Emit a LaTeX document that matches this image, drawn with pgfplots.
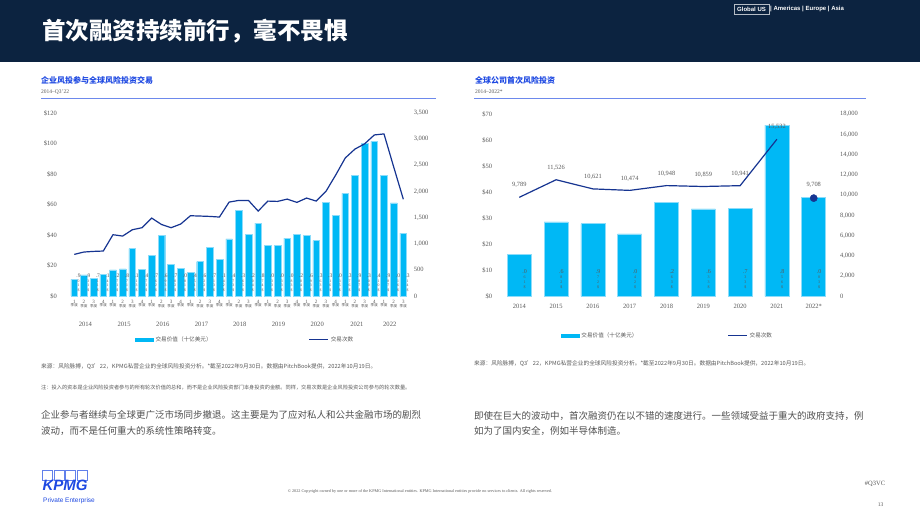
\documentclass[border=0pt]{standalone}
\usepackage{fontspec}
\setmainfont{Liberation Serif}
\newfontfamily\cjk{Noto Sans CJK SC}
\newfontfamily\sans{Liberation Sans}
\usepackage{pgfplots}
\pgfplotsset{compat=1.18}
\definecolor{navy}{RGB}{12,35,64}
\definecolor{kblue}{RGB}{30,73,226}
\definecolor{barc}{RGB}{0,184,245}
\definecolor{baredge}{RGB}{140,220,250}
\definecolor{linec}{RGB}{22,52,145}
\definecolor{txt}{RGB}{89,89,89}
\definecolor{body}{RGB}{80,80,80}

\pgfplotstableread{
x val cnt
0 10.9 796
1 13.9 841
2 11.7 853
3 14.1 860
4 17.2 1172
5 17.8 1146
6 31.1 1267
7 17.4 1306
8 26.7 1490
9 39.6 1369
10 20.7 1306
11 18.0 1376
12 15.4 1535
13 22.6 1529
14 31.7 1522
15 24.1 1510
16 37.4 1796
17 56.3 1828
18 40.2 1828
19 47.8 1624
20 33.0 1815
21 33.0 1809
22 38.0 1853
23 40.2 1790
24 39.6 1873
25 36.3 1815
26 61.3 2000
27 53.0 2310
28 67.3 2640
29 78.9 2810
30 100.3 2910
31 101.4 3080
32 78.9 3100
33 61.0 2470
34 41.3 1850
}\cvc

\pgfplotstableread{
x val
0 16.0
1 28.6
2 27.9
3 24.0
4 36.2
5 33.6
6 33.7
7 65.8
8 38.0
}\firstval

\pgfplotstableread{
x cnt
0 9789
1 11526
2 10621
3 10474
4 10948
5 10859
6 10941
7 15532
}\firstcnt

\pgfplotsset{
  slide/.style={
    scale only axis, anchor=south west,
    axis line style={draw=none}, major tick length=0pt,
    /pgf/number format/assume math mode=true,
    /pgf/number format/1000 sep={,},
    scaled y ticks=false,
    tick label style={font=\rmfamily\fontsize{6.5}{7}\selectfont, text=txt},
    clip=false,
  }
}

\newcommand\q[1]{#1\\[-1.5pt]{\cjk\fontsize{3.6}{4}\selectfont 季度}}

\begin{document}
\begin{tikzpicture}
\useasboundingbox (0pt,0pt) rectangle (920pt,518pt);
\fill[white] (0pt,0pt) rectangle (920pt,518pt);
% header
\fill[navy] (0pt,456pt) rectangle (920pt,518pt);
\node[anchor=west, text=white, font=\cjk\bfseries\fontsize{23.5}{24}\selectfont, inner sep=0pt] at (42pt,487pt) {首次融资持续前行，毫不畏惧};
\draw[white!70!navy, line width=0.6pt] (734pt,504pt) rectangle (769pt,514pt);
\node[text=white, inner sep=0pt, font=\sans\bfseries\fontsize{6}{6}\selectfont] at (751.5pt,509pt) {Global US};
\node[anchor=west, text=white, inner sep=0pt, font=\sans\bfseries\fontsize{6}{6}\selectfont] at (770pt,509pt) {| Americas | Europe | Asia};

% chart titles
\node[anchor=west, inner sep=0pt, text=kblue, font=\cjk\bfseries\fontsize{8}{8}\selectfont] at (41pt,437.3pt) {企业风投参与全球风险投资交易};
\node[anchor=west, inner sep=0pt, text=txt, font=\fontsize{5.5}{6}\selectfont] at (41pt,426pt) {2014–Q3’22};
\draw[kblue!65, line width=0.8pt] (41pt,419.7pt) -- (436pt,419.7pt);
\node[anchor=west, inner sep=0pt, text=kblue, font=\cjk\bfseries\fontsize{8}{8}\selectfont] at (475pt,437.3pt) {全球公司首次风险投资};
\node[anchor=west, inner sep=0pt, text=txt, font=\fontsize{5.5}{6}\selectfont] at (475pt,426pt) {2014–2022*};
\draw[kblue!65, line width=0.8pt] (474pt,419.7pt) -- (866pt,419.7pt);

% ---------- left chart ----------
\begin{axis}[slide, at={(67pt,222pt)}, width=343.6pt, height=183pt,
  xmin=-0.75, xmax=34.75, ymin=0, ymax=120,
  ytick={0,20,...,120}, yticklabels={\$0,\$20,\$40,\$60,\$80,\$100,\$120},
  yticklabel style={inner sep=0pt, xshift=-10pt},
  xtick={0,...,34},
  xticklabels={\q1,\q2,\q3,\q4,\q1,\q2,\q3,\q4,\q1,\q2,\q3,\q4,\q1,\q2,\q3,\q4,\q1,\q2,\q3,\q4,\q1,\q2,\q3,\q4,\q1,\q2,\q3,\q4,\q1,\q2,\q3,\q4,\q1,\q2,\q3},
  xticklabel style={align=center, inner sep=0pt, yshift=-4pt, font=\rmfamily\fontsize{5}{5}\selectfont},
  legend style={at={(0.198,-0.238)}, anchor=west, draw=none, fill=none, inner sep=0pt,
    font=\cjk\fontsize{5.6}{6}\selectfont, text=txt, legend columns=2,
    /tikz/every even column/.append style={column sep=95pt}},
]
\addplot[ybar, bar width=6.7pt, fill=barc, draw=baredge, line width=0.4pt, forget plot] table[x=x,y=val]{\cvc};
\addlegendimage{legend image code/.code={\fill[barc] (0pt,-1.6pt) rectangle (18pt,1.6pt);}}
\addlegendentry{交易价值（十亿美元）}
\addlegendimage{legend image code/.code={\draw[linec,line width=1.2pt] (0pt,0pt) -- (19pt,0pt);}}
\addlegendentry{交易次数}
\foreach \yr/\p in {2014/1.15,2015/5.15,2016/9.15,2017/13.15,2018/17.1,2019/21.1,2020/25.1,2021/29.2,2022/32.6}{
  \edef\tmp{\noexpand\node[font=\noexpand\rmfamily\noexpand\fontsize{6.6}{7}\noexpand\selectfont, text=txt] at (axis cs:\p,0) [yshift=-28pt] {\yr};}\tmp
}
% small value labels set upright one character under another, as in the reference
\foreach \p/\d/\u/\t in {0/9/0/1,1/9/3/1,2/7/1/1,3/1/4/1,4/2/7/1,5/8/7/1,6/1/1/3,7/4/7/1,8/7/6/2,9/6/9/3,10/7/0/2,11/0/8/1,12/4/5/1,13/6/2/2,14/7/1/3,15/1/4/2,16/4/7/3,17/3/6/5,18/2/0/4,19/8/7/4,20/0/3/3,21/0/3/3,22/0/8/3,23/2/0/4,24/6/9/3,25/3/6/3,26/3/1/6,27/0/3/5,28/3/7/6,29/9/8/7,30/3/0/0,31/4/1/0,32/9/8/7,33/0/1/6,34/3/1/4}{
  \edef\tmp{\noexpand\node[anchor=north, inner sep=0pt, text=txt, align=center, font=\noexpand\rmfamily\noexpand\fontsize{3.8}{4.5}\noexpand\selectfont] at (axis cs:\p,0) [xshift=4.3pt, yshift=22pt] {{\noexpand\fontsize{5.5}{5}\noexpand\selectfont .\d}\noexpand\\\u\noexpand\\\t\noexpand\\\noexpand\$};}\tmp
}
\end{axis}
\begin{axis}[slide, at={(67pt,222pt)}, width=343.6pt, height=183pt,
  xmin=-0.75, xmax=34.75, ymin=0, ymax=3500,
  axis x line=none, axis y line*=right,
  ytick={0,500,...,3500},
  yticklabel style={anchor=west, inner sep=0pt, xshift=3pt},
]
\addplot[linec, line width=1.2pt] table[x=x,y=cnt]{\cvc};
\end{axis}

% ---------- right chart ----------
\begin{axis}[slide, at={(497.2pt,221.7pt)}, width=338.6pt, height=182pt,
  xmin=-0.6, xmax=8.6, ymin=0, ymax=70,
  ytick={0,10,...,70}, yticklabels={\$0,\$10,\$20,\$30,\$40,\$50,\$60,\$70},
  yticklabel style={inner sep=0pt, xshift=-5pt},
  xtick={0,...,8}, xticklabels={2014,2015,2016,2017,2018,2019,2020,2021,2022*},
  xticklabel style={inner sep=0pt, yshift=-8pt},
  legend style={at={(0.188,-0.216)}, anchor=west, draw=none, fill=none, inner sep=0pt,
    font=\cjk\fontsize{5.6}{6}\selectfont, text=txt, legend columns=2,
    /tikz/every even column/.append style={column sep=88pt}},
]
\addplot[ybar, bar width=24pt, fill=barc, draw=baredge, line width=0.6pt, forget plot] table[x=x,y=val]{\firstval};
\addlegendimage{legend image code/.code={\fill[barc] (0pt,-1.6pt) rectangle (18pt,1.6pt);}}
\addlegendentry{交易价值（十亿美元）}
\addlegendimage{legend image code/.code={\draw[linec,line width=1.2pt] (0pt,0pt) -- (19pt,0pt);}}
\addlegendentry{交易次数}
\foreach \p/\d/\u/\t in {0/0/6/1,1/6/8/2,2/9/7/2,3/0/4/2,4/2/6/3,5/6/3/3,6/7/3/3,7/8/5/6,8/0/8/3}{
  \edef\tmp{\noexpand\node[anchor=north, inner sep=0pt, text=txt, align=center, font=\noexpand\rmfamily\noexpand\fontsize{4}{5}\noexpand\selectfont] at (axis cs:\p,0) [xshift=5.3pt, yshift=27pt] {{\noexpand\fontsize{6}{5.5}\noexpand\selectfont .\d}\noexpand\\\u\noexpand\\\t\noexpand\\\noexpand\$};}\tmp
}
\end{axis}
\begin{axis}[slide, at={(497.2pt,221.7pt)}, width=338.6pt, height=182pt,
  xmin=-0.6, xmax=8.6, ymin=0, ymax=18000,
  axis x line=none, axis y line*=right,
  ytick={0,2000,...,18000},
  yticklabel style={anchor=west, inner sep=0pt, xshift=4pt},
  nodes near coords, point meta=y,
  every node near coord/.append style={font=\rmfamily\fontsize{6.4}{7}\selectfont, text=txt, anchor=center, yshift=12pt},
]
\addplot[linec, line width=1.2pt] table[x=x,y=cnt]{\firstcnt};
\addplot[only marks, mark=*, mark size=3.6pt, mark options={fill=linec, draw=linec}, every node near coord/.append style={yshift=1pt}] coordinates {(8,9708)};
\end{axis}

% sources and notes
\node[anchor=west, inner sep=0pt, text=txt, font=\cjk\fontsize{5.7}{6}\selectfont] at (41pt,151.3pt) {来源：风险脉搏，Q3’22，KPMG私营企业的全球风险投资分析。*截至2022年9月30日。数据由PitchBook提供，2022年10月19日。};
\node[anchor=west, inner sep=0pt, text=txt, font=\cjk\fontsize{5.2}{6}\selectfont] at (41pt,130.7pt) {注：投入的资本是企业风险投资者参与的所有轮次价值的总和，而不是企业风险投资部门本身投资的金额。同样，交易次数是企业风险投资公司参与的轮次数量。};
\node[anchor=west, inner sep=0pt, text=txt, font=\cjk\fontsize{5.7}{6}\selectfont] at (474pt,154.7pt) {来源：风险脉搏，Q3’22，KPMG私营企业的全球风险投资分析。*截至2022年9月30日。数据由PitchBook提供，2022年10月19日。};

% body
\node[anchor=west, inner sep=0pt, text=body, font=\cjk\fontsize{9.5}{10}\selectfont] at (41pt,103pt) {企业参与者继续与全球更广泛市场同步撤退。这主要是为了应对私人和公共金融市场的剧烈};
\node[anchor=west, inner sep=0pt, text=body, font=\cjk\fontsize{9.5}{10}\selectfont] at (41pt,87pt) {波动，而不是任何重大的系统性策略转变。};
\node[anchor=west, inner sep=0pt, text=body, font=\cjk\fontsize{9.5}{10}\selectfont] at (474pt,102pt) {即使在巨大的波动中，首次融资仍在以不错的速度进行。一些领域受益于重大的政府支持，例};
\node[anchor=west, inner sep=0pt, text=body, font=\cjk\fontsize{9.5}{10}\selectfont] at (474pt,87.5pt) {如为了国内安全，例如半导体制造。};

% footer
\foreach \i in {0,1,2,3}{\draw[kblue!70, line width=0.5pt] (42.5pt+11.5pt*\i,38pt) rectangle (52.5pt+11.5pt*\i,48pt);}
\node[text=kblue, inner sep=0pt, font=\sans\bfseries\itshape\fontsize{15}{15}\selectfont] at (65pt,33pt) {KPMG};
\node[anchor=west, text=kblue, inner sep=0pt, font=\sans\fontsize{6.5}{7}\selectfont] at (43pt,17pt) {Private Enterprise};
\node[text=txt, inner sep=0pt, font=\fontsize{4.2}{5}\selectfont] at (420pt,27pt) {© 2022 Copyright owned by one or more of the KPMG International entities. KPMG International entities provide no services to clients. All rights reserved.};
\node[text=txt, inner sep=0pt, font=\fontsize{6.5}{7}\selectfont] at (875pt,34pt) {\#Q3VC};
\node[text=txt, inner sep=0pt, font=\fontsize{5.5}{6}\selectfont] at (880.5pt,13pt) {13};
\end{tikzpicture}
\end{document}
